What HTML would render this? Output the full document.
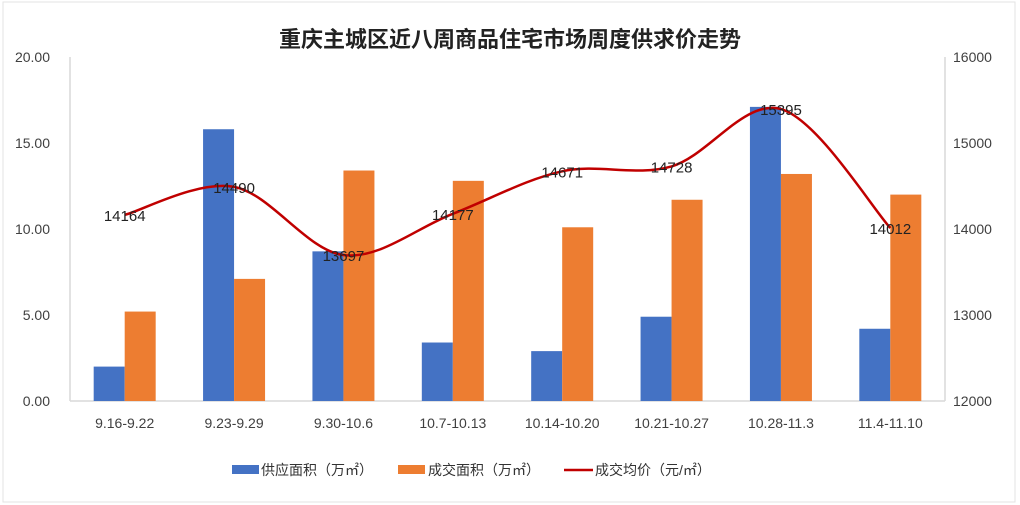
<!DOCTYPE html>
<html><head><meta charset="utf-8">
<style>
body{margin:0;background:#fff;}
svg{display:block;font-family:"Liberation Sans","Noto Sans CJK SC",sans-serif;}
</style></head>
<body>
<svg id="chart" width="1020" height="505">
<rect x="3" y="2" width="1012" height="500" fill="#fff" stroke="#e3e3e3"/>
<text x="510" y="47" text-anchor="middle" font-size="22" font-weight="bold" fill="#222">重庆主城区近八周商品住宅市场周度供求价走势</text>
<g id="axes"></g>
<g id="bars"></g>
<g id="line"></g>
<g font-size="14" fill="#333">
<rect x="232" y="465" width="27" height="9" fill="#4472C4"/>
<text x="261" y="475">供应面积（万㎡）</text>
<rect x="398" y="465" width="27" height="9" fill="#ED7D31"/>
<text x="428" y="475">成交面积（万㎡）</text>
<line x1="564" y1="470" x2="593" y2="470" stroke="#C00000" stroke-width="2.5"/>
<text x="595" y="475">成交均价（元/㎡）</text>
</g>
</svg>
<script>
const categories=["9.16-9.22","9.23-9.29","9.30-10.6","10.7-10.13","10.14-10.20","10.21-10.27","10.28-11.3","11.4-11.10"];
const supply=[2.0,15.8,8.7,3.4,2.9,4.9,17.1,4.2];
const deal=[5.2,7.1,13.4,12.8,10.1,11.7,13.2,12.0];
const price=[14164,14490,13697,14177,14671,14728,15395,14012];
const leftTicks=["0.00","5.00","10.00","15.00","20.00"];
const rightTicks=["12000","13000","14000","15000","16000"];

const NS="http://www.w3.org/2000/svg";
const X0=70,X1=945,Y0=401,Y1=57;
const bw=(X1-X0)/categories.length;
const yL=v=>Y0-(v/20)*(Y0-Y1);
const yR=v=>Y0-((v-12000)/4000)*(Y0-Y1);
const xc=i=>X0+bw*(i+0.5);
function mk(tag,attrs,parent,text){const e=document.createElementNS(NS,tag);for(const k in attrs)e.setAttribute(k,attrs[k]);if(text!=null)e.textContent=text;parent.appendChild(e);return e;}
const axes=document.getElementById('axes'),bars=document.getElementById('bars'),line=document.getElementById('line');

let e=mk('line',{x1:X0,y1:Y1,x2:X0,y2:Y0,stroke:'#d9d9d9','stroke-width':1.5},axes);


e=mk('line',{x1:X1,y1:Y1,x2:X1,y2:Y0,stroke:'#d9d9d9','stroke-width':1.5},axes);


e=mk('line',{x1:X0,y1:Y0,x2:X1,y2:Y0,stroke:'#d9d9d9','stroke-width':1.5},axes);


leftTicks.forEach(t=>{
  const el=mk('text',{x:50,y:yL(parseFloat(t))+5,'text-anchor':'end','font-size':14,fill:'#404040'},axes,t);
  
  
});
rightTicks.forEach(t=>{
  const el=mk('text',{x:953,y:yR(parseFloat(t))+5,'font-size':14,fill:'#404040'},axes,t);
  
  
});
categories.forEach((c,i)=>{
  const el=mk('text',{x:xc(i),y:428,'text-anchor':'middle','font-size':14,fill:'#404040'},axes,c);
  
  
  const w=31;
  const b1=mk('rect',{x:xc(i)-w,y:yL(supply[i]),width:w,height:Y0-yL(supply[i]),fill:'#4472C4'},bars);
  
  
  const b2=mk('rect',{x:xc(i),y:yL(deal[i]),width:w,height:Y0-yL(deal[i]),fill:'#ED7D31'},bars);
  
  
});
const pts=price.map((p,i)=>[xc(i),yR(p)]);
let d=`M${pts[0][0]},${pts[0][1]}`;
for(let i=0;i<pts.length-1;i++){
  const p0=pts[Math.max(0,i-1)],p1=pts[i],p2=pts[i+1],p3=pts[Math.min(pts.length-1,i+2)];
  const t=1/6;
  d+=` C${p1[0]+(p2[0]-p0[0])*t},${p1[1]+(p2[1]-p0[1])*t} ${p2[0]-(p3[0]-p1[0])*t},${p2[1]-(p3[1]-p1[1])*t} ${p2[0]},${p2[1]}`;
}
e=mk('path',{d:d,fill:'none',stroke:'#C00000','stroke-width':2.5},line);


price.forEach((p,i)=>{
  const el=mk('text',{x:xc(i),y:yR(p)+6,'text-anchor':'middle','font-size':15,fill:'#222'},line,String(p));
  
  
});
</script>
</body></html>
